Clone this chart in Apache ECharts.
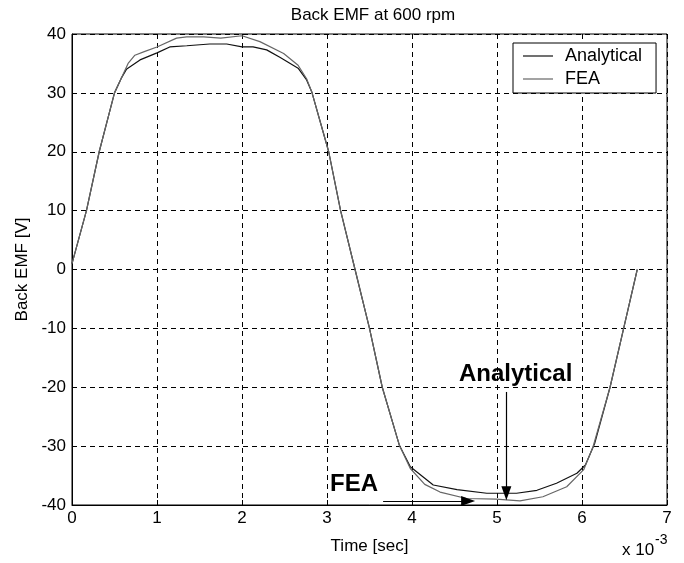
<!DOCTYPE html>
<html><head><meta charset="utf-8">
<script src="https://cdn.jsdelivr.net/npm/echarts@6/dist/echarts.min.js"></script>
<style>html,body{margin:0;padding:0;background:#fff}#c{width:684px;height:563px}</style>
</head><body><div id="c"></div>
<script>
const timeAnalytical = [0, 0.17, 0.32, 0.50, 0.58, 0.64, 0.80, 1.0, 1.15, 1.35, 1.62, 1.82, 2.0, 2.13, 2.29, 2.45, 2.66, 2.76, 2.82, 3.02, 3.16, 3.33, 3.50, 3.65, 3.85, 3.98, 4.25, 4.53, 4.88, 5.11, 5.23, 5.47, 5.70, 5.94, 6.04, 6.15, 6.33, 6.49, 6.65];
const emfAnalytical = [1.0, 10, 20, 30, 32.5, 34, 35.6, 36.8, 37.8, 38, 38.3, 38.3, 37.8, 37.8, 37.3, 36, 34.2, 32.2, 30.2, 20, 10, 0, -10, -20, -29.8, -33.5, -36.6, -37.4, -38, -38, -38, -37.5, -36.3, -34.6, -33.2, -29.5, -20, -10, 0];
const timeFEA = [0, 0.17, 0.32, 0.50, 0.58, 0.66, 0.74, 0.85, 1.0, 1.23, 1.35, 1.55, 1.75, 2.0, 2.21, 2.49, 2.66, 2.76, 2.82, 3.02, 3.16, 3.33, 3.50, 3.65, 3.85, 3.98, 4.15, 4.33, 4.64, 4.99, 5.27, 5.54, 5.82, 6.02, 6.13, 6.33, 6.49, 6.65];
const emfFEA = [1.0, 10, 20, 30, 32.5, 35, 36.4, 37, 37.8, 39.3, 39.5, 39.5, 39.3, 39.7, 38.7, 36.7, 34.7, 32.4, 30.2, 20, 10, 0, -10, -20, -29.8, -33.8, -36.5, -37.8, -38.9, -39.0, -39.3, -38.6, -36.9, -34.0, -30.1, -20, -10, 0];
const xTicks = [0, 1, 2, 3, 4, 5, 6, 7];
const yTicks = [-40, -30, -20, -10, 0, 10, 20, 30, 40];
const arrowAnalytical = [[5.11, -20.8], [5.11, -38.0]];
const arrowFEA = [[3.66, -39.3], [4.66, -39.3]];

const font = 'Liberation Sans, Arial, sans-serif';
const chart = echarts.init(document.getElementById('c'));
const gridDash = {type: [5, 4], color: '#000', width: 1};
chart.setOption({
  animation: false,
  backgroundColor: '#fff',
  title: {text: 'Back EMF at 600 rpm', left: 368, textAlign: 'center', top: 2,
    textStyle: {fontFamily: font, fontSize: 17, fontWeight: 'normal', color: '#000'}},
  legend: {
    orient: 'vertical', left: 513, top: 43,
    padding: [4, 14, 5, 10], itemGap: 5, itemWidth: 30, itemHeight: 18,
    backgroundColor: '#fff', borderColor: '#000', borderWidth: 1,
    icon: 'path://M0,0L30,0L30,1.2L0,1.2Z',
    textStyle: {fontFamily: font, fontSize: 18, color: '#000', padding: [0, 0, 0, 7]},
    data: ['Analytical', 'FEA']
  },
  grid: {left: 72, right: 17, top: 34, bottom: 58, show: true, borderColor: '#000', borderWidth: 1, backgroundColor: 'transparent'},
  xAxis: {
    type: 'value', min: xTicks[0], max: xTicks[xTicks.length - 1], interval: 1,
    name: 'Time [sec]', nameLocation: 'middle', nameGap: 33,
    nameTextStyle: {fontFamily: font, fontSize: 17, color: '#000'},
    axisLine: {onZero: false, lineStyle: {color: '#000'}},
    axisTick: {inside: true, length: 5, lineStyle: {color: '#000'}},
    axisLabel: {fontFamily: font, fontSize: 17, color: '#000', margin: 5},
    splitLine: {show: true, lineStyle: gridDash}
  },
  yAxis: {
    type: 'value', min: yTicks[0], max: yTicks[yTicks.length - 1], interval: 10,
    name: 'Back EMF [V]', nameLocation: 'middle', nameGap: 41, nameRotate: 90,
    nameTextStyle: {fontFamily: font, fontSize: 17, color: '#000'},
    axisLine: {onZero: false, lineStyle: {color: '#000'}},
    axisTick: {inside: true, length: 5, lineStyle: {color: '#000'}},
    axisLabel: {fontFamily: font, fontSize: 17, color: '#000', margin: 6},
    splitLine: {show: true, lineStyle: gridDash}
  },
  series: [
    {name: 'Analytical', type: 'line', showSymbol: false, symbol: 'none',
      color: '#111', lineStyle: {color: '#111', width: 1.2},
      data: timeAnalytical.map((t, i) => [t, emfAnalytical[i]]),
      markLine: {silent: true, symbol: ['none', 'triangle'], symbolSize: [10, 14],
        label: {show: false}, lineStyle: {color: '#000', type: 'solid', width: 1.2},
        data: [[{coord: arrowAnalytical[0]}, {coord: arrowAnalytical[1]}],
               [{coord: arrowFEA[0]}, {coord: arrowFEA[1]}]]}
    },
    {name: 'FEA', type: 'line', showSymbol: false, symbol: 'none',
      color: '#666', lineStyle: {color: '#666', width: 1.2},
      data: timeFEA.map((t, i) => [t, emfFEA[i]])
    }
  ],
  graphic: [
    {type: 'text', left: 459, top: 362, style: {text: 'Analytical', font: 'bold 24px ' + font, fill: '#000'}},
    {type: 'text', left: 330, top: 472, style: {text: 'FEA', font: 'bold 24px ' + font, fill: '#000'}},
    {type: 'text', left: 622, top: 542, style: {text: 'x 10', font: '17px ' + font, fill: '#000'}},
    {type: 'text', left: 655, top: 533, style: {text: '-3', font: '14px ' + font, fill: '#000'}}
  ]
});
</script></body></html>
